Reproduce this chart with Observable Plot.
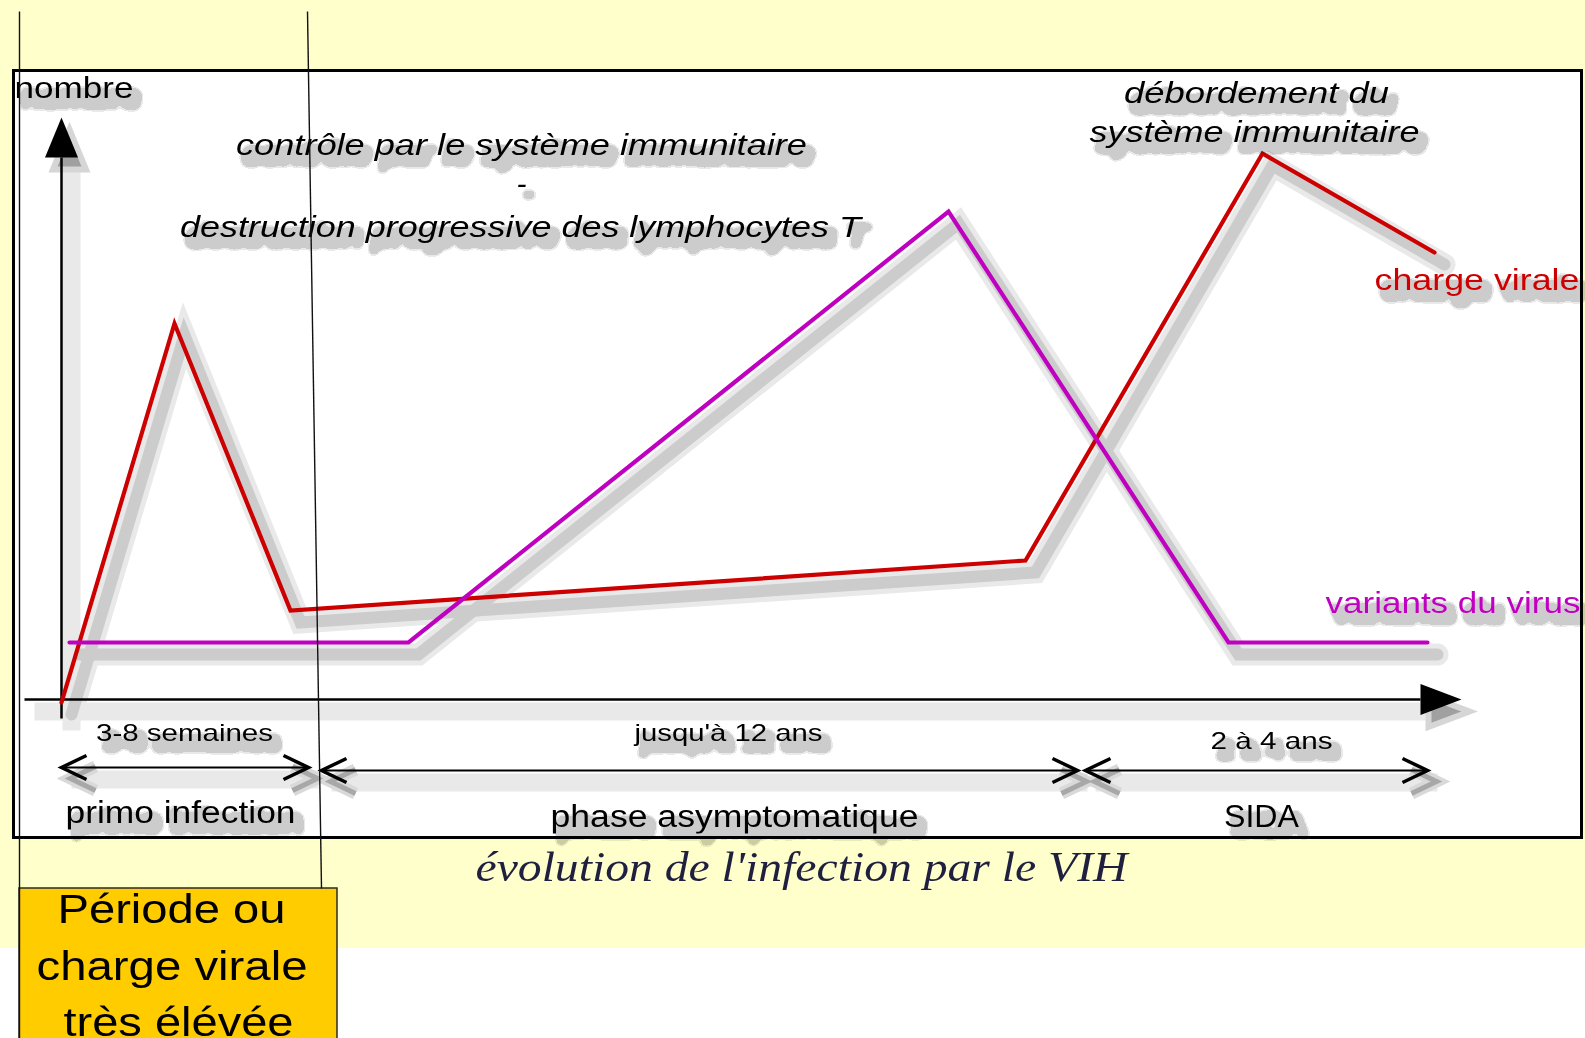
<!DOCTYPE html>
<html lang="fr">
<head>
<meta charset="utf-8">
<script src="https://cdn.jsdelivr.net/npm/d3@7"></script>
<script src="https://cdn.jsdelivr.net/npm/@observablehq/plot@0.6"></script>
<style>
  html, body { margin: 0; padding: 0; background: #ffffff; overflow: hidden; }
  #chart { position: relative; width: 1585px; height: 1038px;
    background: linear-gradient(to bottom, #ffffcc 0px, #ffffcc 948px, #ffffff 948px); }
  #chart svg { display: block; }
</style>
</head>
<body>
<div id="chart"></div>
<script>
// ---------------- DATA (in chart units) ----------------
// time axis: 0 = origin of the axes ; "nombre" axis: 0 = time axis
const tempsCharge   = [0, 113, 229, 964, 1201, 1373];
const chargeVirale  = [-3, 376, 89, 139, 546, 447];
const tempsVariants = [8, 347, 887, 1167, 1366];
const variantsVirus = [57, 57, 488, 57, 57];

const phases      = ["primo infection", "phase asymptomatique", "SIDA"];
const durees      = ["3-8 semaines", "jusqu'à 12 ans", "2 à 4 ans"];
const debutPhase  = [0, 260, 1024];
const finPhase    = [247, 1016, 1366];
const niveauFleche = [-68, -71, -71];
const centrePhase = [119, 673, 1200];
const niveauPhase = [-123, -127, -127];
const centreDuree = [123, 667, 1210];
const niveauDuree = [-41, -41, -49];

const axeTempsDebut = -37, axeTempsFin = 1359;
const axeNombreDebut = -19, axeNombreFin = 542;

const titreAxe = ["nombre"];
const titreAxeX = [-47], titreAxeY = [602];

const annotations = ["contrôle par le système immunitaire", "-", "destruction progressive des lymphocytes T"];
const annotX = [460, 460, 459];
const annotY = [545, 506, 463];

const debordement = ["débordement du", "système immunitaire"];
const debordX = [1195, 1193];
const debordY = [597, 558];

const nomsSeries = ["charge virale", "variants du virus"];
const nomsSeriesX = [1518, 1519];
const nomsSeriesY = [410, 87];

const legende = ["évolution de l'infection par le VIH"];
const legendeX = [740], legendeY = [-181];

const encadre = ["Période ou", "charge virale", "très élévée"];
const encadreX = [110, 110.5, 117];
const encadreY = [-223, -280, -336];
const bulle = {gauche: -42, droite: 276, haut: -189, bas: -345, sommet: 688, pointeHaut: 246, pointeBas: 260};

// ---------------- STYLE ----------------
const sans = "'Liberation Sans', Arial, Helvetica, sans-serif";
const serif = "'Liberation Serif', 'Times New Roman', serif";
const ROUGE = "#cc0000", MAGENTA = "#c000c0";
// target rendered widths (the original picture is horizontally stretched)
const largeurs = new Map([
  ["nombre|30", 119],
  ["contrôle par le système immunitaire|30", 571],
  ["destruction progressive des lymphocytes T|30", 681],
  ["débordement du|30", 265],
  ["système immunitaire|30", 330],
  ["charge virale|30", 205],
  ["variants du virus|30", 255],
  ["3-8 semaines|24", 177],
  ["jusqu'à 12 ans|24", 188],
  ["2 à 4 ans|24", 122],
  ["primo infection|31", 230],
  ["phase asymptomatique|31", 368],
  ["SIDA|31", 75],
  ["évolution de l'infection par le VIH|42", 652],
  ["Période ou|40", 228],
  ["charge virale|40", 271],
  ["très élévée|40", 230]
]);

// ---------------- TABLES ----------------
const courbeCharge = tempsCharge.map((t, i) => ({t, n: chargeVirale[i]}));
const courbeVariants = tempsVariants.map((t, i) => ({t, n: variantsVirus[i]}));
const fleches = phases.map((p, i) => ({x1: debutPhase[i], x2: finPhase[i], y: niveauFleche[i]}));
const axes = [
  {x1: axeTempsDebut, y1: 0, x2: axeTempsFin, y2: 0},
  {x1: 0, y1: axeNombreDebut, x2: 0, y2: axeNombreFin}
];
const tab = (texts, xs, ys) => texts.map((text, i) => ({text, x: xs[i], y: ys[i]}));
const lblAxe = tab(titreAxe, titreAxeX, titreAxeY);
const lblAnnot = tab(annotations, annotX, annotY);
const lblDebord = tab(debordement, debordX, debordY);
const lblCharge = tab([nomsSeries[0]], [nomsSeriesX[0]], [nomsSeriesY[0]]);
const lblVariants = tab([nomsSeries[1]], [nomsSeriesX[1]], [nomsSeriesY[1]]);
const lblDurees = tab(durees, centreDuree, niveauDuree);
const lblPhases = tab(phases, centrePhase, niveauPhase);
const lblLegende = tab(legende, legendeX, legendeY);
const lblEncadre = tab(encadre, encadreX, encadreY);
const lignesBulle = [
  {x1: bulle.gauche, y1: bulle.sommet, x2: bulle.gauche, y2: bulle.bas},
  {x1: bulle.pointeHaut, y1: bulle.sommet, x2: bulle.pointeBas, y2: bulle.haut}
];

// ---------------- SYMBOLS ----------------
const triangleHaut = {draw(c) { c.moveTo(-16.5, 0); c.lineTo(0, -40); c.lineTo(16.5, 0); c.closePath(); }};
const triangleDroite = {draw(c) { c.moveTo(0, -15.5); c.lineTo(41, 0); c.lineTo(0, 15.5); c.closePath(); }};
const chevronGauche = {draw(c) { c.moveTo(25, -12); c.lineTo(0, 0); c.lineTo(25, 12); }};
const chevronDroite = {draw(c) { c.moveTo(-25, -12); c.lineTo(0, 0); c.lineTo(-25, 12); }};

// ---------------- HELPERS ----------------
const SX = 10, SY = 12;
const labelMark = (data, opts) =>
  Plot.text(data, {x: "x", y: "y", text: "text", lineAnchor: "bottom", fontFamily: sans, ...opts});
const shadowedLabels = [
  labelMark(lblAxe, {fontSize: 30, textAnchor: "start", fill: "black"}),
  labelMark(lblAnnot, {fontSize: 30, fontStyle: "italic", textAnchor: "middle", fill: "black"}),
  labelMark(lblDebord, {fontSize: 30, fontStyle: "italic", textAnchor: "middle", fill: "black"}),
  labelMark(lblCharge, {fontSize: 30, textAnchor: "end", fill: ROUGE}),
  labelMark(lblVariants, {fontSize: 30, textAnchor: "end", fill: MAGENTA}),
  labelMark(lblDurees, {fontSize: 24, textAnchor: "middle", fill: "black"}),
  labelMark(lblPhases, {fontSize: 31, textAnchor: "middle", fill: "black"})
];

const lineOpts = {x: "t", y: "n", strokeLinejoin: "miter", strokeMiterlimit: 4};

const chart = Plot.plot({
  width: 1585,
  height: 1038,
  marginLeft: 13, marginRight: 4, marginTop: 70, marginBottom: 201,
  x: {type: "linear", domain: [-48, 1520], axis: null},
  y: {type: "linear", domain: [-138, 629], axis: null},
  style: {background: "transparent", overflow: "visible"},
  marks: [
    Plot.frame({fill: "white", stroke: "none"}),

    // ---- shadows ----
    Plot.link(axes, {x1: "x1", y1: "y1", x2: "x2", y2: "y2", stroke: "#e9e9e9", strokeWidth: 18, dx: SX, dy: SY}),
    Plot.link(fleches, {x1: "x1", y1: "y", x2: "x2", y2: "y", stroke: "#e9e9e9", strokeWidth: 18, dx: SX, dy: SY}),
    Plot.line(courbeCharge, {...lineOpts, stroke: "#e9e9e9", strokeWidth: 22, dx: SX, dy: SY}),
    Plot.line(courbeVariants, {...lineOpts, stroke: "#e9e9e9", strokeWidth: 22, dx: SX, dy: SY}),
    Plot.line(courbeCharge, {...lineOpts, stroke: "#cccccc", strokeWidth: 12, dx: SX, dy: SY}),
    Plot.line(courbeVariants, {...lineOpts, stroke: "#cccccc", strokeWidth: 12, dx: SX, dy: SY}),
    Plot.dot([axes[1]], {x: "x2", y: "y2", symbol: triangleHaut, fill: "#a0a0a0", stroke: "#d6d6d6", strokeWidth: 6, dx: 8, dy: 12}),
    Plot.dot([axes[0]], {x: "x2", y: "y2", symbol: triangleDroite, fill: "#a0a0a0", stroke: "#d6d6d6", strokeWidth: 6, dx: 8, dy: 12}),
    Plot.dot(fleches, {x: "x1", y: "y", symbol: chevronGauche, fill: "none", stroke: "#d9d9d9", strokeWidth: 12, dx: 9, dy: 11}),
    Plot.dot(fleches, {x: "x2", y: "y", symbol: chevronDroite, fill: "none", stroke: "#d9d9d9", strokeWidth: 12, dx: 9, dy: 11}),
    Plot.dot(fleches, {x: "x1", y: "y", symbol: chevronGauche, fill: "none", stroke: "#a8a8a8", strokeWidth: 5, dx: 9, dy: 11}),
    Plot.dot(fleches, {x: "x2", y: "y", symbol: chevronDroite, fill: "none", stroke: "#a8a8a8", strokeWidth: 5, dx: 9, dy: 11}),

    // ---- axes and brackets ----
    Plot.link(axes, {x1: "x1", y1: "y1", x2: "x2", y2: "y2", stroke: "black", strokeWidth: 2.5}),
    Plot.dot([axes[1]], {x: "x2", y: "y2", symbol: triangleHaut, fill: "black", stroke: "none"}),
    Plot.dot([axes[0]], {x: "x2", y: "y2", symbol: triangleDroite, fill: "black", stroke: "none"}),
    Plot.link(fleches, {x1: "x1", y1: "y", x2: "x2", y2: "y", stroke: "black", strokeWidth: 2}),
    Plot.dot(fleches, {x: "x1", y: "y", symbol: chevronGauche, fill: "none", stroke: "black", strokeWidth: 3.5, strokeLinejoin: "miter"}),
    Plot.dot(fleches, {x: "x2", y: "y", symbol: chevronDroite, fill: "none", stroke: "black", strokeWidth: 3.5, strokeLinejoin: "miter"}),

    // ---- series ----
    Plot.line(courbeCharge, {...lineOpts, stroke: ROUGE, strokeWidth: 4.2}),
    Plot.line(courbeVariants, {...lineOpts, stroke: MAGENTA, strokeWidth: 4.2}),

    // ---- labels (drop shadow added through an SVG filter below) ----
    ...shadowedLabels,

    Plot.frame({stroke: "black", strokeWidth: 3, fill: "none"}),

    // ---- caption & callout ----
    Plot.text(lblLegende, {x: "x", y: "y", text: "text", lineAnchor: "bottom", textAnchor: "middle",
      fontFamily: serif, fontStyle: "italic", fontSize: 42, fill: "#1f1f3f"}),
    Plot.rect([bulle], {x1: "gauche", x2: "droite", y1: "haut", y2: "bas", fill: "#ffcc00", stroke: "#2a2a2a", strokeWidth: 1.5}),
    Plot.link(lignesBulle, {x1: "x1", y1: "y1", x2: "x2", y2: "y2", stroke: "#111", strokeWidth: 1.4}),
    Plot.text(lblEncadre, {x: "x", y: "y", text: "text", lineAnchor: "bottom", textAnchor: "middle",
      fontFamily: sans, fontSize: 40, fill: "black"})
  ]
});

document.getElementById("chart").appendChild(chart);

// ---- drop-shadow filter (blurred, posterised grey like the original GIF) ----
const svgSel = d3.select(chart.tagName.toLowerCase() === "svg" ? chart : chart.querySelector("svg"));
const defs = svgSel.insert("defs", ":first-child");
const filt = defs.append("filter").attr("id", "ombre-texte")
  .attr("filterUnits", "userSpaceOnUse").attr("x", 0).attr("y", 0).attr("width", 1585).attr("height", 1038);
filt.append("feMorphology").attr("in", "SourceAlpha").attr("operator", "dilate").attr("radius", 1).attr("result", "epais");
filt.append("feGaussianBlur").attr("in", "epais").attr("stdDeviation", 3.2).attr("result", "flou");
filt.append("feOffset").attr("in", "flou").attr("dx", 7).attr("dy", 9).attr("result", "decale");
const ct = filt.append("feComponentTransfer").attr("in", "decale").attr("result", "ombre");
ct.append("feFuncA").attr("type", "discrete").attr("tableValues", "0 0.09 0.2 0.2 0.2 0.2 0.2 0.2 0.2 0.2");
const merge = filt.append("feMerge");
merge.append("feMergeNode").attr("in", "ombre");
merge.append("feMergeNode").attr("in", "SourceGraphic");

svgSel.selectAll("g[aria-label='text']").each(function () {
  const s = this.getAttribute("font-size");
  if (s === "24" || s === "30" || s === "31") this.setAttribute("filter", "url(#ombre-texte)");
});

// stretch texts horizontally like the original picture
svgSel.selectAll("text").each(function () {
  const g = this.closest("[font-size]");
  const size = g ? g.getAttribute("font-size") : "";
  const w = largeurs.get(`${this.textContent}|${size}`);
  if (w) {
    this.setAttribute("textLength", w);
    this.setAttribute("lengthAdjust", "spacingAndGlyphs");
  }
});
</script>
</body>
</html>
